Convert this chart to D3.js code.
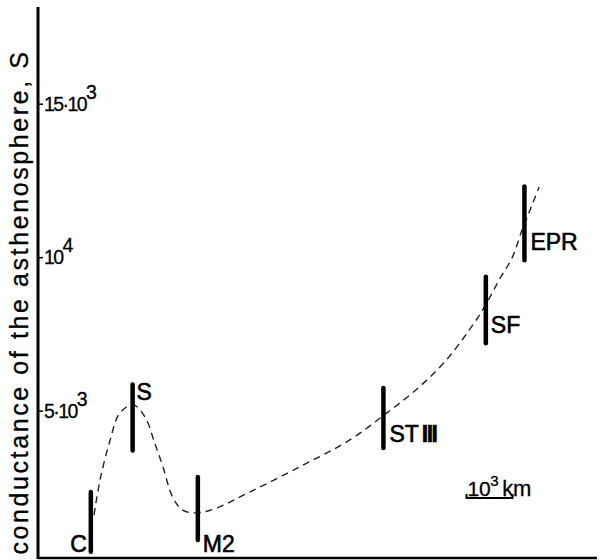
<!DOCTYPE html>
<html>
<head>
<meta charset="utf-8">
<script src="https://cdn.jsdelivr.net/npm/d3@7"></script>
<style>
  body { margin: 0; background: #fff; }
  svg { display: block; font-family: "Liberation Sans", Arial, sans-serif; }
</style>
</head>
<body>
<div id="chart"></div>
<script>
// sites with their conductance ranges (x in 10^3 km, S)
const sites = ["C", "S", "M2", "STIII", "SF", "EPR"];
const siteX = [1.15, 2.06, 3.48, 7.52, 9.75, 10.59];
const siteLow = [400, 3700, 790, 3780, 7200, 9900];
const siteHigh = [2350, 5850, 2840, 5740, 9360, 12300];

// dashed trend curve
const curveX = [1.22, 1.35, 1.57, 1.78, 2.07, 2.33, 2.54, 2.72, 2.93, 3.15, 3.46, 3.89, 4.61, 5.70, 6.78, 7.59, 8.30, 8.89, 9.39, 9.72, 10.04, 10.33, 10.54, 10.74, 10.91];
const curveY = [1600, 2740, 4040, 4920, 5190, 4790, 3950, 3170, 2190, 1760, 1670, 1830, 2350, 3170, 4040, 4920, 5770, 6650, 7630, 8380, 9260, 10010, 10890, 11640, 12290];

const yTicks = [5000, 10000, 15000];
const yTickBase = ["5·10", "10", "15·10"];
const yTickExp = ["3", "4", "3"];

(function chart() {
  let width = 601,
      height = 560;

  const svg = d3.select("#chart")
    .append("svg")
    .attr("width", width)
    .attr("height", height);

  let x = d3.scaleLinear()
    .domain([0, 12.17])
    .range([38, 597]);

  let y = d3.scaleLinear()
    .domain([200, 18150])
    .range([558, 7]);

  // frame: vertical axis and baseline
  svg.append("line")
    .attr("x1", x(0)).attr("x2", x(0))
    .attr("y1", y(18150)).attr("y2", y(200) + 1)
    .attr("stroke", "#000").attr("stroke-width", 3);

  svg.append("line")
    .attr("x1", x(0)).attr("x2", x(12.17))
    .attr("y1", y(200)).attr("y2", y(200))
    .attr("stroke", "#000").attr("stroke-width", 2.5);

  // ticks to the right of the axis
  svg.append("g")
    .attr("transform", `translate(${x(0)},0)`)
    .call(d3.axisRight(y).tickValues(yTicks).tickSize(5).tickFormat(""))
    .call(g => g.select(".domain").remove())
    .call(g => g.selectAll("line").attr("stroke-width", 1.5));

  const tl = svg.append("g")
    .selectAll("text")
    .data(yTicks)
    .join("text")
    .attr("x", x(0) + 6)
    .attr("y", d => y(d) + 7)
    .attr("font-size", 19.5)
    .attr("letter-spacing", -1.6)
    .attr("stroke", "#000")
    .attr("stroke-width", 0.3);
  tl.append("tspan").text((d, i) => yTickBase[i]);
  tl.append("tspan")
    .attr("dy", -12)
    .text((d, i) => yTickExp[i]);

  // axis title
  svg.append("text")
    .attr("transform", `translate(28,${302}) rotate(-90)`)
    .attr("text-anchor", "middle")
    .attr("font-size", 25)
    .attr("letter-spacing", 2.6)
    .attr("stroke", "#000")
    .attr("stroke-width", 0.3)
    .text("conductance of the asthenosphere, S");

  // dashed curve
  const pts = curveX.map((d, i) => [d, curveY[i]]);
  svg.append("path")
    .datum(pts)
    .attr("fill", "none")
    .attr("stroke", "#222")
    .attr("stroke-width", 1.4)
    .attr("stroke-dasharray", "7,5")
    .attr("d", d3.line()
      .x(d => x(d[0]))
      .y(d => y(d[1]))
      .curve(d3.curveCatmullRom));

  // range bars
  svg.append("g")
    .selectAll("line")
    .data(sites)
    .join("line")
    .attr("x1", (d, i) => x(siteX[i]))
    .attr("x2", (d, i) => x(siteX[i]))
    .attr("y1", (d, i) => y(siteLow[i]))
    .attr("y2", (d, i) => y(siteHigh[i]))
    .attr("stroke", "#000")
    .attr("stroke-width", 4.5)
    .attr("stroke-linecap", "round");

  // site labels
  const labelPos = {
    C: (i) => [x(siteX[i]) - 4, y(siteLow[i]), "end"],
    S: (i) => [x(siteX[i]) + 4, y(siteHigh[i]) + 15, "start"],
    M2: (i) => [x(siteX[i]) + 5, y(siteLow[i]) + 12, "start"],
    STIII: (i) => [x(siteX[i]) + 6, y(siteLow[i]) - 6, "start"],
    SF: (i) => [x(siteX[i]) + 5, y(siteLow[i]) - 10, "start"],
    EPR: (i) => [x(siteX[i]) + 6, y(siteLow[i]) - 10, "start"]
  };

  const lab = svg.append("g")
    .selectAll("text")
    .data(sites)
    .join("text")
    .attr("x", (d, i) => labelPos[d](i)[0])
    .attr("y", (d, i) => labelPos[d](i)[1])
    .attr("text-anchor", (d, i) => labelPos[d](i)[2])
    .attr("font-size", 23)
    .attr("stroke", "#000")
    .attr("stroke-width", 0.6);
  lab.filter(d => d !== "STIII").text(d => d);
  const st = lab.filter(d => d === "STIII");
  st.append("tspan").text("ST");
  st.append("tspan").attr("dx", 3).attr("font-weight", "bold").attr("letter-spacing", -1.5).text("III");

  // scale bar: 10^3 km
  const sb = svg.append("g");
  sb.append("path")
    .attr("d", `M${x(9.33)},${494} V${498} H${x(10.33)} V${494}`)
    .attr("fill", "none")
    .attr("stroke", "#000")
    .attr("stroke-width", 2);
  const sbt = sb.append("text")
    .attr("x", x(9.33) + 1)
    .attr("y", 496)
    .attr("font-size", 21)
    .attr("letter-spacing", -0.3)
    .attr("stroke", "#000")
    .attr("stroke-width", 0.3);
  sbt.append("tspan").text("10");
  sbt.append("tspan").attr("dy", -10).attr("font-size", 15).text("3");
  sbt.append("tspan").attr("dy", 10).attr("dx", 4).attr("font-size", 22).text("km");
})();
</script>
</body>
</html>
